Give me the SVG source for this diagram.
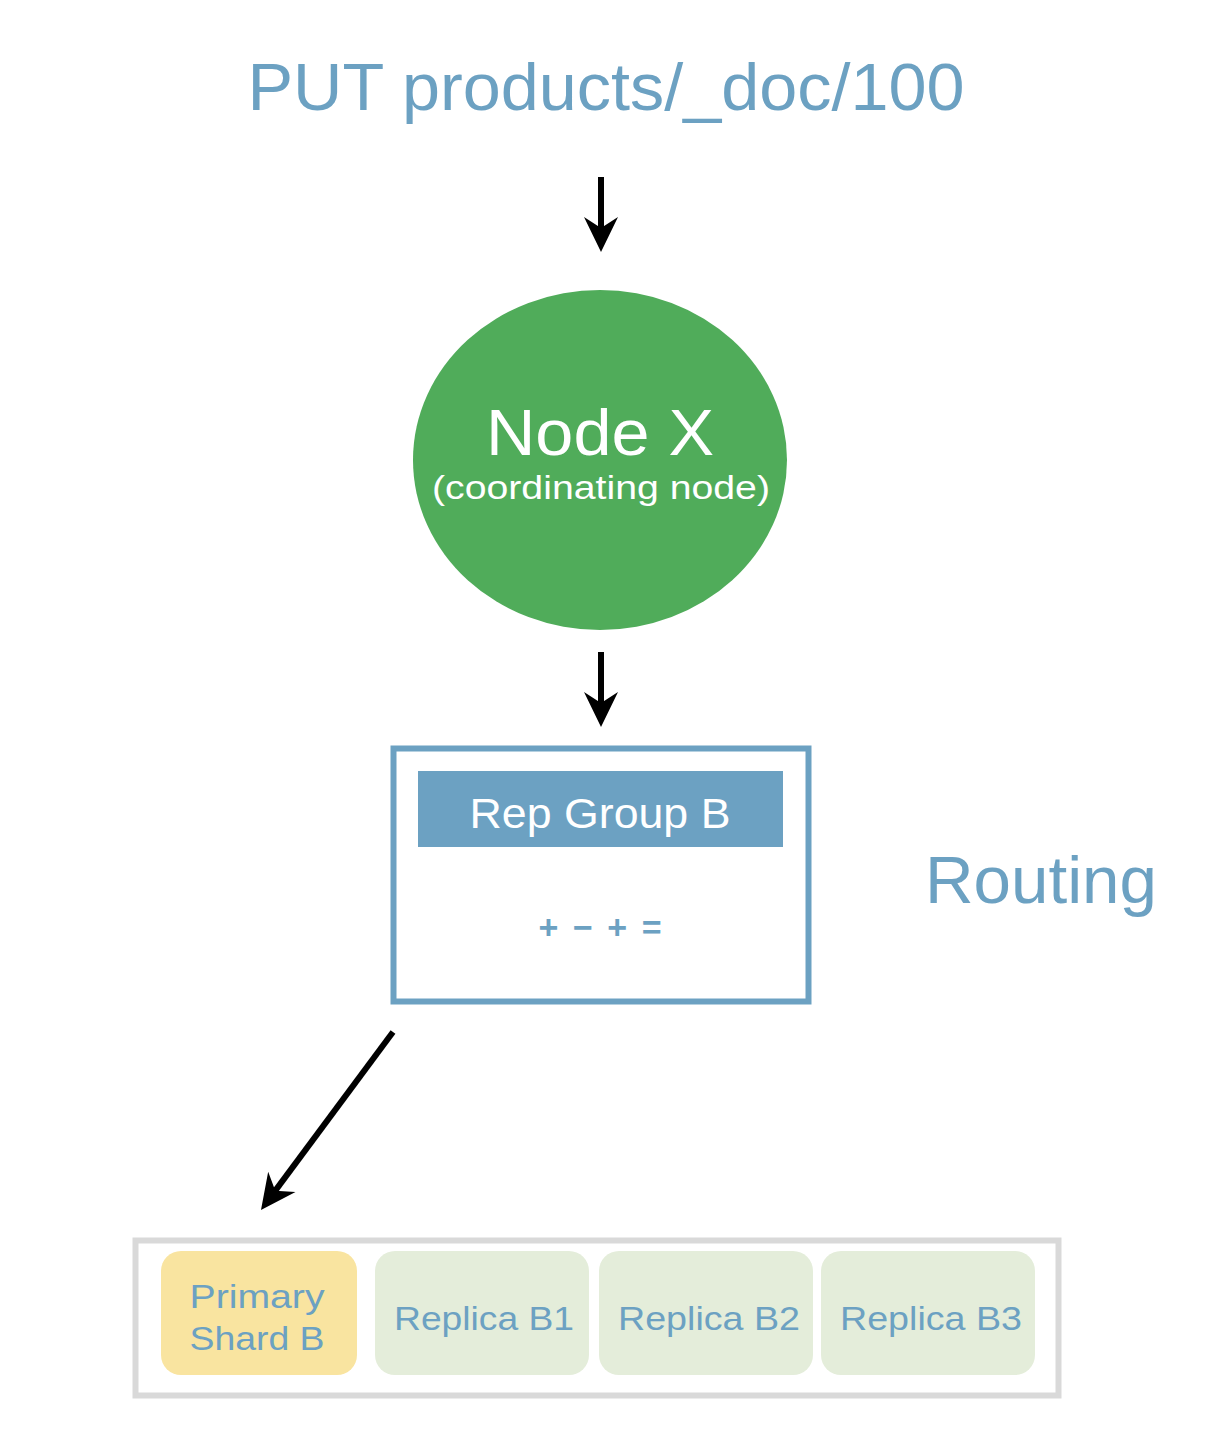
<svg xmlns="http://www.w3.org/2000/svg" width="1226" height="1430" viewBox="0 0 1226 1430">
<style>
text{font-family:"Liberation Sans",Arial,sans-serif}
.blue{fill:#6CA1C2}
.white{fill:#FFFFFF}
.conn{stroke:#000;stroke-width:6;fill:none}
.cell{font-size:34px}
</style>
<defs>
<marker id="ah" markerUnits="userSpaceOnUse" viewBox="-36 -19 38 38" refX="-20" refY="0" markerWidth="38" markerHeight="38" orient="auto">
<path d="M0,0 L-35,-17 L-24,0 L-35,17 Z" fill="#000"/>
</marker>
</defs>
<rect width="1226" height="1430" fill="#fff"/>
<g id="title">
<text x="606" y="110" font-size="67" text-anchor="middle" class="blue" textLength="717" lengthAdjust="spacingAndGlyphs">PUT products/_doc/100</text>
</g>
<g id="nodeX">
<ellipse cx="600" cy="460" rx="187" ry="170" fill="#50AC5A"/>
<text x="600" y="455" font-size="64" text-anchor="middle" class="white" textLength="228" lengthAdjust="spacingAndGlyphs">Node X</text>
<text x="601" y="499" font-size="34" text-anchor="middle" class="white" textLength="338" lengthAdjust="spacingAndGlyphs">(coordinating node)</text>
</g>
<g id="repGroup">
<rect x="393.5" y="748.5" width="415" height="253" fill="#fff" stroke="#6CA1C2" stroke-width="6"/>
<rect x="418" y="771" width="365" height="76" fill="#6CA1C2"/>
<text x="600" y="828" font-size="42" text-anchor="middle" class="white" textLength="261" lengthAdjust="spacingAndGlyphs">Rep Group B</text>
<text x="600" y="939" font-size="34" font-weight="bold" text-anchor="middle" class="blue" textLength="123" lengthAdjust="spacing">+ − + =</text>
</g>
<g id="routing">
<text x="1041" y="903" font-size="66" text-anchor="middle" class="blue" textLength="232" lengthAdjust="spacingAndGlyphs">Routing</text>
</g>
<g id="shards">
<rect x="135.5" y="1240.5" width="923" height="155" fill="#fff" stroke="#D9D9D9" stroke-width="6"/>
</g>
<g id="primary">
<rect x="161" y="1251" width="196" height="124" rx="20" fill="#F9E4A0"/>
<text x="257" y="1308" text-anchor="middle" class="blue cell" textLength="135" lengthAdjust="spacingAndGlyphs">Primary</text>
<text x="257" y="1350" text-anchor="middle" class="blue cell" textLength="135" lengthAdjust="spacingAndGlyphs">Shard B</text>
</g>
<g id="replicaB1">
<rect x="375" y="1251" width="214" height="124" rx="20" fill="#E4EDDA"/>
<text x="484" y="1330" text-anchor="middle" class="blue cell" textLength="180" lengthAdjust="spacingAndGlyphs">Replica B1</text>
</g>
<g id="replicaB2">
<rect x="599" y="1251" width="214" height="124" rx="20" fill="#E4EDDA"/>
<text x="709" y="1330" text-anchor="middle" class="blue cell" textLength="182" lengthAdjust="spacingAndGlyphs">Replica B2</text>
</g>
<g id="replicaB3">
<rect x="821" y="1251" width="214" height="124" rx="20" fill="#E4EDDA"/>
<text x="931" y="1330" text-anchor="middle" class="blue cell" textLength="182" lengthAdjust="spacingAndGlyphs">Replica B3</text>
</g>
<g id="connectors">
<line class="conn" x1="601" y1="177" x2="601" y2="232" marker-end="url(#ah)"/>
<line class="conn" x1="601" y1="652" x2="601" y2="707" marker-end="url(#ah)"/>
<line class="conn" x1="393" y1="1032" x2="272.9" y2="1193.9" marker-end="url(#ah)"/>
</g>
</svg>
